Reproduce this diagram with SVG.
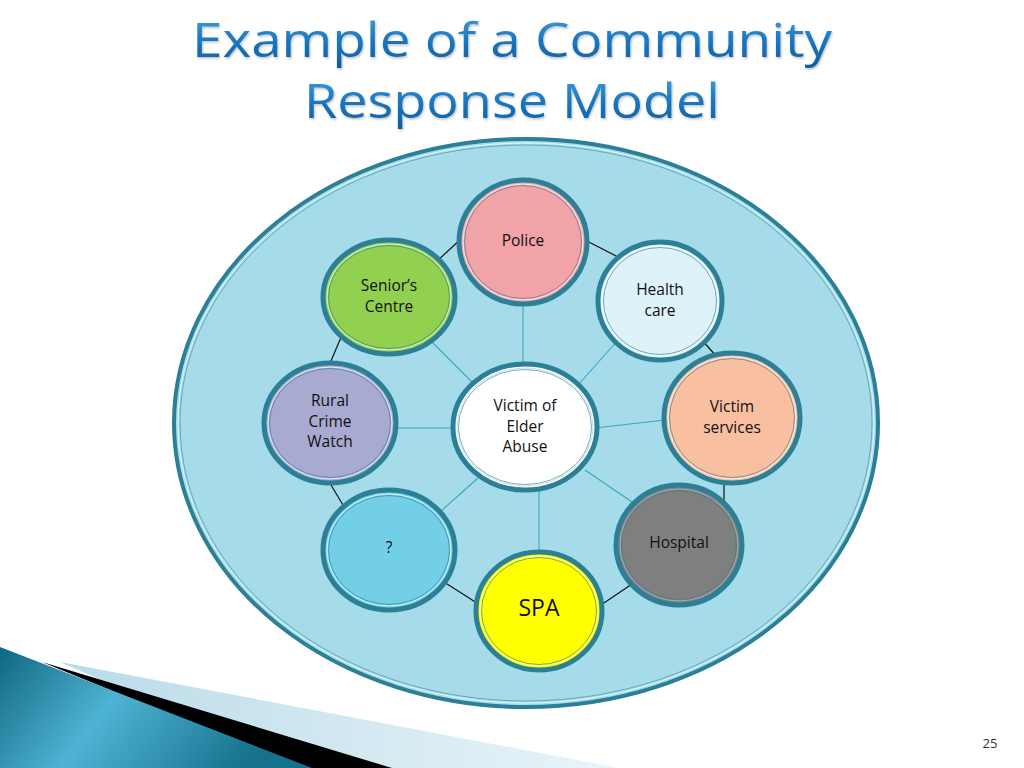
<svg xmlns="http://www.w3.org/2000/svg" width="1024" height="768" viewBox="0 0 1024 768">
<defs>
<linearGradient id="titleGrad" x1="0" y1="0" x2="0" y2="1">
<stop offset="0" stop-color="#4aa8e0"/>
<stop offset="0.5" stop-color="#1b78c2"/>
<stop offset="1" stop-color="#0d5a9e"/>
</linearGradient>
<linearGradient id="tealGrad" x1="0" y1="0" x2="1" y2="0.3">
<stop offset="0" stop-color="#0f6680"/>
<stop offset="0.45" stop-color="#4fb3d3"/>
<stop offset="1" stop-color="#15718d"/>
</linearGradient>
<linearGradient id="lightGrad" x1="0" y1="0" x2="1" y2="0">
<stop offset="0" stop-color="#b9dbe8"/>
<stop offset="1" stop-color="#eaf5f9"/>
</linearGradient>
<filter id="shadow" x="-5%" y="-5%" width="110%" height="115%">
<feDropShadow dx="1" dy="1.5" stdDeviation="1" flood-color="#000" flood-opacity="0.25"/>
</filter>
</defs>
<style>
.title{font-family:"Open Sans","Liberation Sans",sans-serif;font-weight:400;font-size:47px;fill:url(#titleGrad);text-anchor:middle;}
.ring{stroke:#2b7f96;stroke-width:5;}
.inner1{fill:none;stroke:#ffffff;stroke-opacity:0.75;stroke-width:1;}
.inner2{fill:none;stroke:#2b7f96;stroke-width:0.8;stroke-opacity:0.8;}
.lbl{font-family:"Open Sans","Liberation Sans",sans-serif;font-size:15.5px;fill:#111;text-anchor:middle;}
.ringline{stroke:#111;stroke-width:1.2;}
.spoke{stroke:#3aa6c2;stroke-width:1.1;}
</style>
<rect width="1024" height="768" fill="#ffffff"/>

<g id="title" filter="url(#shadow)">
<text class="title" x="512" y="57" textLength="640" lengthAdjust="spacingAndGlyphs">Example of a Community</text>
<text class="title" x="512" y="118" textLength="416" lengthAdjust="spacingAndGlyphs">Response Model</text>
</g>

<g id="decoration">
<polygon points="60,662 620,768 300,768" fill="url(#lightGrad)"/>
<polygon points="42,662 392,768 300,768" fill="#000000"/>
<polygon points="0,647 312,768 0,768" fill="url(#tealGrad)"/>
</g>

<g id="community">
<ellipse cx="526" cy="423" rx="352" ry="284" fill="#a6dcea" stroke="#2b7f96" stroke-width="4"/>
<ellipse cx="526" cy="423" rx="348" ry="280" fill="none" stroke="#ffffff" stroke-opacity="0.7" stroke-width="1"/>
<ellipse cx="526" cy="423" rx="346" ry="278" fill="none" stroke="#2b7f96" stroke-width="0.8" stroke-opacity="0.7"/>
</g>

<g id="connectors">
<line class="ringline" x1="436" y1="262" x2="462" y2="238"/>
<line class="ringline" x1="585" y1="240" x2="618" y2="257"/>
<line class="ringline" x1="700" y1="338" x2="718" y2="358"/>
<line class="ringline" x1="724" y1="478" x2="724" y2="506"/>
<line class="ringline" x1="635" y1="582" x2="598" y2="607"/>
<line class="ringline" x1="480" y1="605" x2="444" y2="582"/>
<line class="ringline" x1="343" y1="505" x2="328" y2="480"/>
<line class="ringline" x1="328" y1="368" x2="342" y2="335"/>
<line class="spoke" x1="523" y1="300" x2="523" y2="370"/>
<line class="spoke" x1="430" y1="340" x2="475" y2="385"/>
<line class="spoke" x1="618" y1="340" x2="578" y2="385"/>
<line class="spoke" x1="395" y1="428" x2="455" y2="428"/>
<line class="spoke" x1="595" y1="428" x2="665" y2="420"/>
<line class="spoke" x1="440" y1="512" x2="478" y2="478"/>
<line class="spoke" x1="539" y1="488" x2="539" y2="555"/>
<line class="spoke" x1="585" y1="470" x2="632" y2="502"/>
</g>

<g id="police">
<ellipse class="ring" cx="523" cy="242" rx="64" ry="62" fill="#f2a3a7"/>
<ellipse class="inner1" cx="523" cy="242" rx="60" ry="58"/>
<ellipse class="inner2" cx="523" cy="242" rx="58.5" ry="56.5"/>
<text class="lbl" x="523" y="246">Police</text>
</g>

<g id="seniors-centre">
<ellipse class="ring" cx="389" cy="297" rx="66" ry="57" fill="#92d050"/>
<ellipse class="inner1" cx="389" cy="297" rx="62" ry="53"/>
<ellipse class="inner2" cx="389" cy="297" rx="60.5" ry="51.5"/>
<text class="lbl" x="389" y="291">Senior’s</text>
<text class="lbl" x="389" y="312">Centre</text>
</g>

<g id="health-care">
<ellipse class="ring" cx="660" cy="301" rx="62" ry="59" fill="#def3f9"/>
<ellipse class="inner1" cx="660" cy="301" rx="58" ry="55"/>
<ellipse class="inner2" cx="660" cy="301" rx="56.5" ry="53.5"/>
<text class="lbl" x="660" y="295">Health</text>
<text class="lbl" x="660" y="316">care</text>
</g>

<g id="rural-crime-watch">
<ellipse class="ring" cx="330" cy="423" rx="66" ry="60" fill="#a9aad2"/>
<ellipse class="inner1" cx="330" cy="423" rx="62" ry="56"/>
<ellipse class="inner2" cx="330" cy="423" rx="60.5" ry="54.5"/>
<text class="lbl" x="330" y="406">Rural</text>
<text class="lbl" x="330" y="427">Crime</text>
<text class="lbl" x="330" y="447">Watch</text>
</g>

<g id="victim">
<ellipse class="ring" cx="525" cy="427" rx="72" ry="63" fill="#ffffff"/>
<ellipse class="inner1" cx="525" cy="427" rx="68" ry="59" style="stroke:#2b7f96;stroke-opacity:0.25"/>
<ellipse class="inner2" cx="525" cy="427" rx="66.5" ry="57.5"/>
<text class="lbl" x="525" y="411">Victim of</text>
<text class="lbl" x="525" y="432">Elder</text>
<text class="lbl" x="525" y="452">Abuse</text>
</g>

<g id="victim-services">
<ellipse class="ring" cx="732" cy="418" rx="68" ry="65" fill="#f8bfa0"/>
<ellipse class="inner1" cx="732" cy="418" rx="64" ry="61"/>
<ellipse class="inner2" cx="732" cy="418" rx="62.5" ry="59.5"/>
<text class="lbl" x="732" y="412">Victim</text>
<text class="lbl" x="732" y="433">services</text>
</g>

<g id="unknown">
<ellipse class="ring" cx="389" cy="550" rx="66" ry="60" fill="#72cfe5"/>
<ellipse class="inner1" cx="389" cy="550" rx="62" ry="56"/>
<ellipse class="inner2" cx="389" cy="550" rx="60.5" ry="54.5"/>
<text class="lbl" x="389" y="553">?</text>
</g>

<g id="hospital">
<ellipse class="ring" cx="679" cy="545" rx="63" ry="60" fill="#7f7f7f"/>
<ellipse class="inner1" cx="679" cy="545" rx="59" ry="56" style="stroke-opacity:0.35"/>
<ellipse class="inner2" cx="679" cy="545" rx="57.5" ry="54.5"/>
<text class="lbl" x="679" y="548">Hospital</text>
</g>

<g id="spa">
<ellipse class="ring" cx="539" cy="611" rx="63" ry="59" fill="#ffff00"/>
<ellipse class="inner1" cx="539" cy="611" rx="59" ry="55"/>
<ellipse class="inner2" cx="539" cy="611" rx="57.5" ry="53.5"/>
<text class="lbl" x="539" y="616" style="font-size:23px">SPA</text>
</g>

<text x="990" y="748" style="font-family:'Open Sans','Liberation Sans',sans-serif;font-size:13px;fill:#333;text-anchor:middle">25</text>
</svg>
